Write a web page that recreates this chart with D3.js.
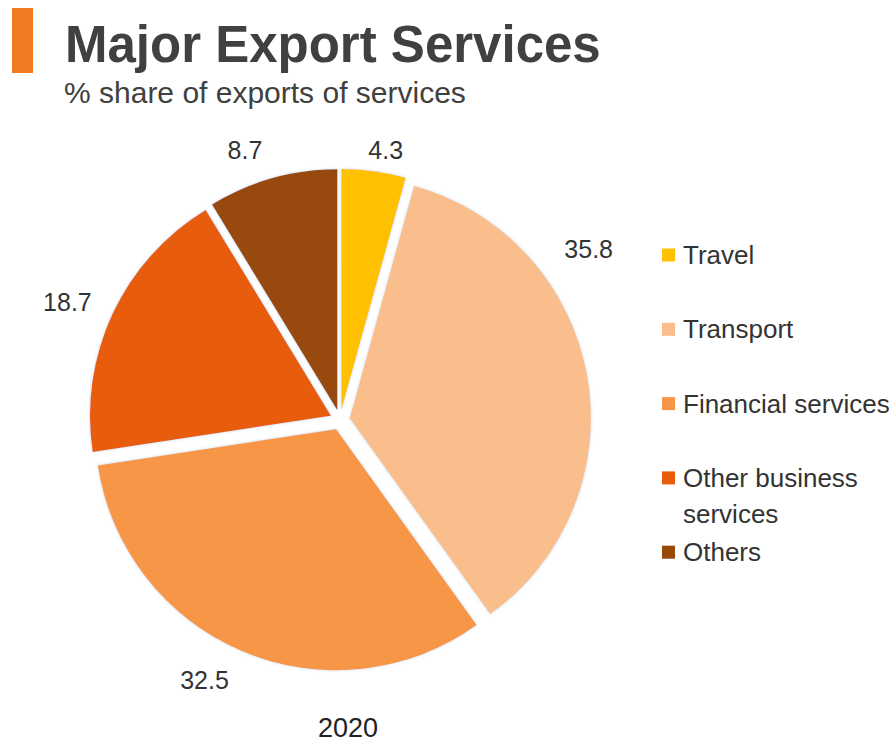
<!DOCTYPE html>
<html><head><meta charset="utf-8">
<script src="https://cdn.jsdelivr.net/npm/d3@7"></script>
<style>
body{margin:0;background:#fff}
svg{display:block}
text{font-family:Arial,"Liberation Sans",sans-serif}
</style>
</head><body>
<svg id="chart" width="895" height="744"></svg>
<script>
// ---- data ----
const categories = ["Travel","Transport","Financial services","Other business services","Others"];
const values = [4.3, 35.8, 32.5, 18.7, 8.7];
const colors = ["#FFC000","#F9BE8C","#F79646","#E85C0C","#984807"];
const titleText = "Major Export Services";
const subtitleText = "% share of exports of services";
const yearText = "2020";
// ---- label layout (fraction along each slice's angle, distance from centre) ----
const labelFrac = [0.62, 0.31, 0.54, 0.476, 0.38];
const labelDist = [274, 302, 293, 297, 286];

const svg = d3.select("#chart");
const cx = 340, cy = 420, R = 241, explode = 10;

// header
svg.append("rect").attr("x",12).attr("y",8).attr("width",21).attr("height",65).attr("fill","#F07A22");
svg.append("text").attr("x",65).attr("y",62).attr("font-size",51).attr("font-weight","bold")
  .attr("fill","#404040").text(titleText);
svg.append("text").attr("x",64).attr("y",103).attr("font-size",30).attr("fill","#404040").text(subtitleText);

// shadow filter
const defs = svg.append("defs");
const f = defs.append("filter").attr("id","sh").attr("x","-10%").attr("y","-10%").attr("width","120%").attr("height","120%");
f.append("feDropShadow").attr("dx",0).attr("dy",0).attr("stdDeviation",1.6)
  .attr("flood-color","#b9cfe0").attr("flood-opacity",0.8);

const pie = d3.pie().sort(null).value(d => d).startAngle(0).endAngle(2*Math.PI);
const arcs = pie(values);
const arc = d3.arc().innerRadius(0).outerRadius(R);

const g = svg.append("g").attr("transform",`translate(${cx},${cy})`);
g.selectAll("path.slice").data(arcs).enter().append("path")
  .attr("class","slice")
  .attr("d", arc)
  .attr("fill",(d,i)=>colors[i])
  .attr("filter","url(#sh)")
  .attr("transform", d => {
    const [x,y] = d3.pointRadial((d.startAngle+d.endAngle)/2, explode);
    return `translate(${x},${y})`;
  });

// data labels
g.selectAll("text.lbl").data(arcs).enter().append("text")
  .attr("class","lbl")
  .attr("text-anchor","middle")
  .attr("font-size",25)
  .attr("fill","#333")
  .attr("transform",(d,i)=>{
    const a = d.startAngle + labelFrac[i]*(d.endAngle-d.startAngle);
    const [x,y] = d3.pointRadial(a, labelDist[i]);
    return `translate(${x},${y+9})`;
  })
  .text(d => d3.format(".1f")(d.data));

// year
svg.append("text").attr("x",cx+8).attr("y",737).attr("text-anchor","middle")
  .attr("font-size",27).attr("fill","#222").text(yearText);

// legend
const lg = svg.append("g");
const lx = 662, ly0 = 255, step = 74.3, maxW = 216;
categories.forEach((c,i)=>{
  const y = ly0 + i*step;
  lg.append("rect").attr("x",lx).attr("y",y-6.5).attr("width",13).attr("height",13).attr("fill",colors[i]);
  const t = lg.append("text").attr("x",lx+21).attr("y",y+9).attr("font-size",26).attr("fill","#333");
  const words = c.split(" ");
  let line = [], ts = t.append("tspan").attr("x",lx+21).attr("dy",0);
  words.forEach(w=>{
    line.push(w);
    ts.text(line.join(" "));
    if (ts.node().getComputedTextLength() > maxW && line.length>1){
      line.pop(); ts.text(line.join(" "));
      line=[w];
      ts = t.append("tspan").attr("x",lx+21).attr("dy",36.5).text(w);
    }
  });
});
</script>
</body></html>
